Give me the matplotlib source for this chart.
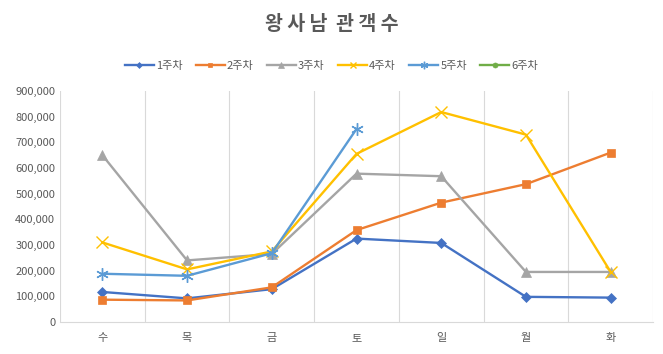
import numpy as np
import matplotlib
matplotlib.use('Agg')
import matplotlib.pyplot as plt
from matplotlib.ticker import FuncFormatter

plt.rcParams['font.family'] = ['Noto Sans CJK KR', 'DejaVu Sans']

# 요일 / 주차별 관객수
days = ['수', '목', '금', '토', '일', '월', '화']
week1 = [117000, 92000, 128000, 325000, 308000, 98000, 95000]
week2 = [87000, 84000, 135000, 358000, 465000, 537000, 660000]
week3 = [650000, 240000, 265000, 578000, 568000, 195000, 195000]
week4 = [310000, 205000, 275000, 655000, 818000, 730000, 195000]
week5 = [188000, 180000, 268000, 752000, np.nan, np.nan, np.nan]
week6 = [np.nan] * 7

labels = ['1주차', '2주차', '3주차', '4주차', '5주차', '6주차']
colors = ['#4472C4', '#ED7D31', '#A5A5A5', '#FFC000', '#5B9BD5', '#70AD47']
markers = ['D', 's', '^', 'x', (6, 2, 0), 'o']
sizes = [5, 6, 7, 8, 9, 6]

fig = plt.figure(figsize=(6.63, 3.54), dpi=100)
ax = fig.add_axes([60 / 663, 32 / 354, 593 / 663, 231 / 354])

x = np.arange(len(days))
for data, lab, c, m, s in zip([week1, week2, week3, week4, week5, week6],
                              labels, colors, markers, sizes):
    ax.plot(x, data, color=c, marker=m, markersize=s, linewidth=1.7,
            label=lab, markeredgewidth=1.0 if m in ('x', (6, 2, 0)) else 0.5)

ax.set_xlim(-0.5, len(days) - 0.5)
ax.set_ylim(0, 900000)
ax.set_yticks(np.arange(0, 900001, 100000))
ax.yaxis.set_major_formatter(FuncFormatter(lambda v, p: f'{int(v):,}'))
ax.set_xticks(x)
ax.set_xticklabels(days)

# 범주 경계 세로 격자
for b in np.arange(-0.5, len(days), 1.0):
    ax.axvline(b, color='#D9D9D9', linewidth=0.8, zorder=0)

for sp in ['top', 'right', 'left']:
    ax.spines[sp].set_visible(False)
ax.spines['bottom'].set_color('#D9D9D9')
ax.tick_params(axis='both', length=0, colors='#595959', labelsize=8)
ax.tick_params(axis='x', pad=8)

fig.text(0.5, 1 - 25 / 354, '왕 사 남  관 객 수', ha='center', va='center',
         fontsize=14, fontweight='bold', color='#595959')
fig.legend(loc='center', bbox_to_anchor=(0.5, 1 - 66 / 354), ncol=6,
           frameon=False, fontsize=8, labelcolor='#595959',
           handlelength=2.6, handletextpad=0.2, columnspacing=1.2,
           markerscale=0.6)

fig.savefig('out.png', dpi=100)
